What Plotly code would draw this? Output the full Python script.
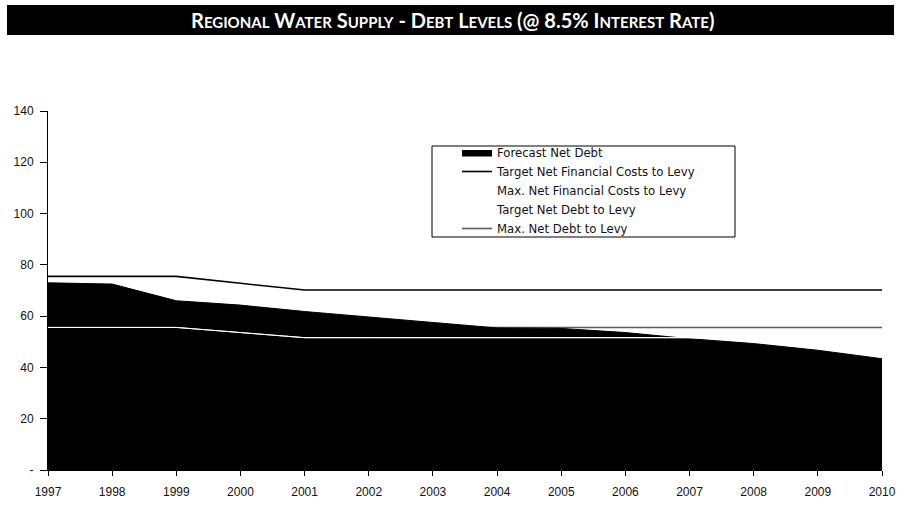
import plotly.graph_objects as go

years = [1997, 1998, 1999, 2000, 2001, 2002, 2003, 2004, 2005, 2006, 2007, 2008, 2009, 2010]
forecast_net_debt = [73.0, 72.5, 66.0, 64.3, 61.8, 59.6, 57.5, 55.4, 55.2, 53.6, 51.2, 49.3, 46.7, 43.4]
target_net_fin_costs = [75.5, 75.5, 75.5, 72.8, 70.2, 70.2, 70.2, 70.2, 70.2, 70.2, 70.2, 70.2, 70.2, 70.2]
max_net_fin_costs = [55.6, 55.6, 55.6, 53.6, 51.6, 51.6, 51.6, 51.6, 51.6, 51.6, 51.6, 51.6, 51.6, 51.6]
target_net_debt = [55.6, 55.6, 55.6, 53.6, 51.6, 51.6, 51.6, 51.6, 51.6, 51.6, 51.6, 51.6, 51.6, 51.6]
max_net_debt = [55.6] * 14
y_ticks = [0, 20, 40, 60, 80, 100, 120, 140]
y_ticktext = ["-", "20", "40", "60", "80", "100", "120", "140"]

FONT = "Liberation Sans, Arial, sans-serif"
LEGEND_FONT = "DejaVu Sans, Liberation Sans, sans-serif"

fig = go.Figure()
# gray line drawn first so the area covers it
fig.add_trace(go.Scatter(x=years, y=max_net_debt, mode="lines", name="Max. Net Debt to Levy",
                         line=dict(color="#5a5a5a", width=1.6), legendrank=5))
fig.add_trace(go.Scatter(x=years, y=forecast_net_debt, mode="lines", name="Forecast Net Debt",
                         fill="tozeroy", fillcolor="black", line=dict(color="black", width=1),
                         legendrank=1))
fig.add_trace(go.Scatter(x=years, y=target_net_fin_costs, mode="lines",
                         name="Target Net Financial Costs to Levy",
                         line=dict(color="black", width=1.6), legendrank=2))
fig.add_trace(go.Scatter(x=years, y=max_net_fin_costs, mode="lines",
                         name="Max. Net Financial Costs to Levy",
                         line=dict(color="white", width=1), legendrank=3))
fig.add_trace(go.Scatter(x=years, y=target_net_debt, mode="lines", name="Target Net Debt to Levy",
                         line=dict(color="white", width=1), legendrank=4))

L, R, T, B = 48, 19, 111, 44
W, H = 901, 514
pw, ph = W - L - R, H - T - B

def px(x):
    return (x - L) / pw

def py(y):
    return (H - B - y) / ph

s = "<span style='font-size:15px'>"
title = (f"R{s}EGIONAL</span> W{s}ATER</span> S{s}UPPLY</span> - D{s}EBT</span> "
         f"L{s}EVELS</span> (@ 8.5% I{s}NTEREST</span> R{s}ATE</span>)")

fig.update_layout(
    width=W, height=H,
    margin=dict(l=L, r=R, t=T, b=B, pad=0, autoexpand=False),
    paper_bgcolor="white", plot_bgcolor="white",
    font=dict(family=FONT, size=12, color="#111"),
    showlegend=True,
    legend=dict(x=px(457), y=py(138), xanchor="left", yanchor="top",
                bgcolor="rgba(0,0,0,0)", borderwidth=0,
                font=dict(family=LEGEND_FONT, size=11.7, color="#111"),
                tracegroupgap=0, itemwidth=30),
    shapes=[
        dict(type="rect", xref="paper", yref="paper", x0=px(7), x1=px(894), y0=py(35), y1=py(5),
             fillcolor="black", line=dict(width=0), layer="above"),
        dict(type="rect", xref="paper", yref="paper", x0=px(432), x1=px(735), y0=py(237), y1=py(146),
             fillcolor="rgba(0,0,0,0)", line=dict(color="black", width=1), layer="above"),
    ],
    annotations=[
        dict(text=title, xref="paper", yref="paper", x=px(452), y=py(20), xanchor="center",
             yanchor="middle", showarrow=False,
             font=dict(family="Lato, Open Sans, sans-serif", size=20, color="white", weight="bold")),
    ],
    xaxis=dict(range=[1997, 2010], tickvals=years, ticktext=[str(y) for y in years],
               showgrid=False, zeroline=False, showline=True, linecolor="black", linewidth=1,
               ticks="outside", ticklen=5, tickcolor="black", tickfont=dict(size=12),
               automargin=False, ticklabelstandoff=6),
    yaxis=dict(range=[0, 140], tickvals=y_ticks, ticktext=y_ticktext,
               showgrid=False, zeroline=False, showline=True, linecolor="black", linewidth=1,
               ticks="outside", ticklen=7, tickcolor="black", tickfont=dict(size=12),
               automargin=False, ticklabelstandoff=4),
)

fig.write_html("out.html")
